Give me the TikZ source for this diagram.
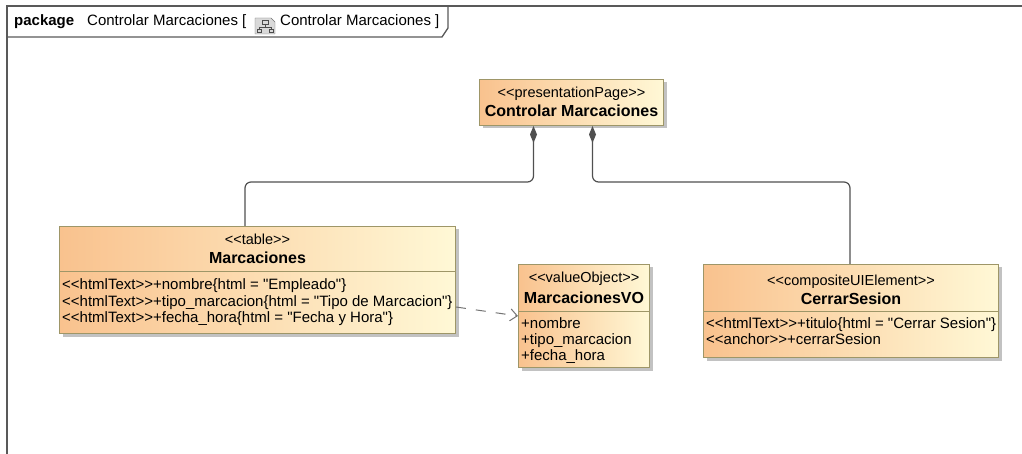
\documentclass[tikz,border=0pt]{standalone}
\usepackage{fontspec}
\setmainfont{Liberation Sans}
\usetikzlibrary{calc}
\usetikzlibrary{positioning}
\usetikzlibrary{shadows}
\usetikzlibrary{arrows.meta}

\definecolor{boxleft}{RGB}{249,194,142}
\definecolor{boxright}{RGB}{255,248,214}
\definecolor{boxline}{RGB}{158,150,104}
\definecolor{wire}{RGB}{80,80,80}
\newcommand{\qd}{\textquotedbl}

\tikzset{
  classbox/.style={draw=boxline, line width=1pt, left color=boxleft, right color=boxright,
    drop shadow={shadow xshift=3pt, shadow yshift=-3pt, fill=black!40, opacity=0.6},
    anchor=north west, inner sep=0pt},
  stereo/.style={font=\fontsize{14.5}{16}\selectfont, anchor=base, inner sep=0pt},
  cname/.style={font=\fontsize{16}{18}\selectfont\bfseries, anchor=base, inner sep=0pt},
  attr/.style={font=\fontsize{15}{16}\selectfont, anchor=base west, inner sep=0pt},
  tabtxt/.style={font=\fontsize{15}{18}\selectfont, anchor=base west, inner sep=0pt},
  comp/.style={draw=wire, line width=1.2pt, rounded corners=6pt, arrows={Diamond[length=17pt,width=7pt]-}},
  dep/.style={draw=wire!80, line width=1pt, dash pattern=on 10pt off 10pt, arrows={-Straight Barb[length=7pt,width=12pt]}}
}

\begin{document}
\begin{tikzpicture}[x=1pt, y=-1pt]
    \useasboundingbox (0,0) rectangle (1022,454);
    % frame and tab
    \draw[black!65, line width=1.3pt] (7,454) -- (7,6) -- (1022,6);
    \draw[black!65, line width=1.3pt] (7,37) -- (442,37) -- (448,28) -- (448,6);
    \node[tabtxt, font=\fontsize{15}{18}\selectfont\bfseries] (tabkw) at (14,26) {package};
    \node[tabtxt] (tabname) at (87,26) {Controlar Marcaciones [};
    \draw[black!55, fill=black!15] (255,18) -- (271,18) -- (275,22) -- (275,34) -- (255,34) -- cycle;
    \draw[black!70, line width=0.7pt] (262,20) rectangle (268,24) (265,24) -- (265,27) (259,27) -- (271,27) (259,27) -- (259,29) (271,27) -- (271,29)
        (257,29) rectangle (261,32) (269,29) rectangle (273,32);
    \node[tabtxt] (tabdiag) at (280,26) {Controlar Marcaciones ]};

    % classes
    \node[classbox, minimum width=184pt, minimum height=46pt] (ctrl) at (479,79) {};
    \node[stereo] (ctrlst) at ($(ctrl.north)+(0,19)$) {<{}<presentationPage>{}>};
    \node[cname] (ctrlnm) at ($(ctrl.north)+(0,38)$) {Controlar Marcaciones};

    \node[classbox, minimum width=396pt, minimum height=107pt] (marc) at (59,226) {};
    \node[stereo] (marcst) at ($(marc.north)+(0,19)$) {<{}<table>{}>};
    \node[cname] (marcnm) at ($(marc.north)+(0,38)$) {Marcaciones};
    \draw[boxline] ($(marc.north west)+(0,45)$) -- ($(marc.north east)+(0,45)$);
    \node[attr] (marca) at ($(marc.north west)+(3,64)$) {<{}<htmlText>{}>+nombre\{html = \qd Empleado\qd\}};
    \node[attr] (marcb) at ($(marc.north west)+(3,80)$) {<{}<htmlText>{}>+tipo\_marcacion\{html = \qd Tipo de Marcacion\qd\}};
    \node[attr] (marcc) at ($(marc.north west)+(3,96)$) {<{}<htmlText>{}>+fecha\_hora\{html = \qd Fecha y Hora\qd\}};

    \node[classbox, minimum width=131pt, minimum height=103pt] (vo) at (518,264) {};
    \node[stereo] (vost) at ($(vo.north)+(0,18)$) {<{}<valueObject>{}>};
    \node[cname] (vonm) at ($(vo.north)+(0,39)$) {MarcacionesVO};
    \draw[boxline] ($(vo.north west)+(0,47)$) -- ($(vo.north east)+(0,47)$);
    \node[attr] (voa) at ($(vo.north west)+(3,64)$) {+nombre};
    \node[attr] (vob) at ($(vo.north west)+(3,80)$) {+tipo\_marcacion};
    \node[attr] (voc) at ($(vo.north west)+(3,96)$) {+fecha\_hora};

    \node[classbox, minimum width=295pt, minimum height=93pt] (cerrar) at (703,264) {};
    \node[stereo] (cerrarst) at ($(cerrar.north)+(0,21)$) {<{}<compositeUIElement>{}>};
    \node[cname] (cerrarnm) at ($(cerrar.north)+(0,40)$) {CerrarSesion};
    \draw[boxline] ($(cerrar.north west)+(0,47)$) -- ($(cerrar.north east)+(0,47)$);
    \node[attr] (cerrara) at ($(cerrar.north west)+(3,64)$) {<{}<htmlText>{}>+titulo\{html = \qd Cerrar Sesion\qd\}};
    \node[attr] (cerrarb) at ($(cerrar.north west)+(3,80)$) {<{}<anchor>{}>+cerrarSesion};

    % connectors
    \coordinate (bendl) at (245,182);
    \coordinate (bendr) at (850,182);
    \draw[comp] ([xshift=-38pt]ctrl.south) |- (bendl) -- (bendl |- marc.north);
    \draw[comp] ([xshift=21pt]ctrl.south) |- (bendr) -- (bendr |- cerrar.north);
    \draw[dep] ([yshift=-27pt]marc.east) -- (vo.west);
\end{tikzpicture}
\end{document}
